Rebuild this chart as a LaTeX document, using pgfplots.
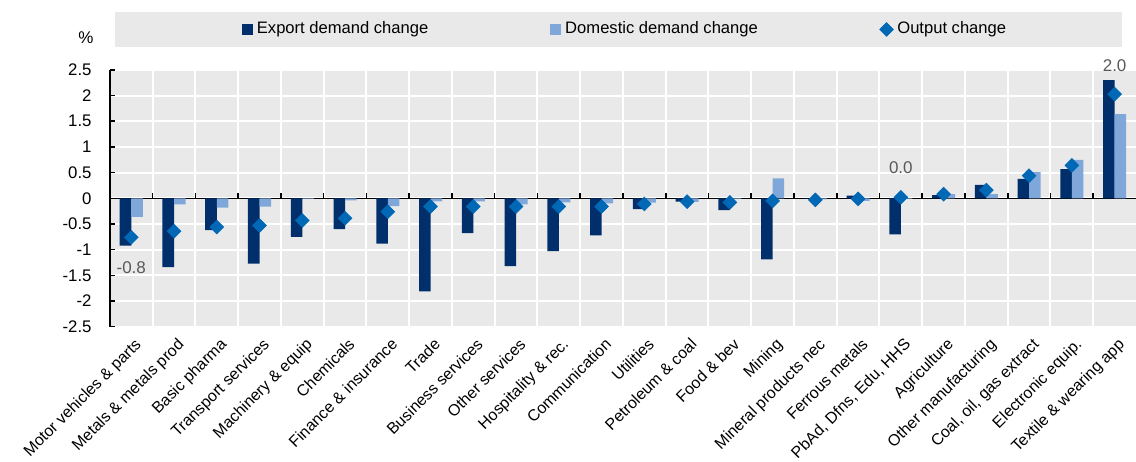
\documentclass[border=0pt]{standalone}
\usepackage{pgfplots}
\pgfplotsset{compat=1.18}
\usepackage{fontspec}
\setmainfont{Liberation Sans}

\definecolor{exportc}{HTML}{002F6C}
\definecolor{domc}{HTML}{7FA7DA}
\definecolor{outc}{HTML}{0068B5}
\definecolor{bgc}{HTML}{E9E9E9}
\definecolor{lblc}{HTML}{595959}

\begin{document}
\begin{tikzpicture}
\begin{axis}[
    name=ax,
    scale only axis,
    width=513.5bp, height=128.5bp,
    clip=false,
    xmin=-0.5, xmax=23.5,
    ymin=-2.5, ymax=2.5,
    ytick={-2.5,-2,...,2.5},
    xtick={0,...,23},
    xticklabels={Motor vehicles \& parts, Metals \& metals prod, Basic pharma,
        Transport services, Machinery \& equip, Chemicals, Finance \& insurance,
        Trade, Business services, Other services, Hospitality \& rec.,
        Communication, Utilities, Petroleum \& coal, Food \& bev, Mining,
        Mineral products nec, Ferrous metals, {PbAd, Dfns, Edu, HHS},
        Agriculture, Other manufacturing, {Coal, oil, gas extract},
        Electronic equip., Textile \& wearing app},
    minor xtick={0.5,1.5,...,22.5},
    xmajorgrids=false, xminorgrids=true, ymajorgrids=true,
    major grid style={white, line width=1bp},
    minor grid style={white, line width=1bp},
    axis background/.style={fill=bgc},
    axis x line*=bottom, x axis line style={draw=none},
    axis y line*=left, y axis line style={black, line width=0.8bp, -},
    tick align=inside,
    major tick length=2.5bp, minor tick length=0pt,
    xtick style={draw=none},
    ytick style={black, line width=0.8bp},
    extra y ticks={0}, extra y tick labels={},
    extra y tick style={ymajorgrids=true, major grid style={black, line width=0.8bp}},
    /pgf/number format/assume math mode=true,
    yticklabel style={font=\fontsize{8.4bp}{10bp}\selectfont, anchor=east, inner sep=0pt, xshift=-9bp},
    xticklabel style={font=\fontsize{8bp}{10bp}\selectfont, xshift=1.2bp, yshift=-5bp,
        rotate=45, anchor=north east, inner sep=0pt},
    ylabel={\%},
    ylabel style={rotate=-90, at={(rel axis cs:0,1)}, anchor=center,
        xshift=-12bp, yshift=16.2bp, font=\fontsize{8.5bp}{10bp}\selectfont},
    legend columns=3,
    legend style={at={(rel axis cs:0.503,1.1576)}, anchor=center, draw=none, fill=none,
        font=\fontsize{8.3bp}{10bp}\selectfont, inner sep=0pt,
        /tikz/every even column/.append style={column sep=59bp}},
]
% legend background strip
\fill[bgc] (rel axis cs:0.0049,1.0895) rectangle (rel axis cs:0.9864,1.2257);

% export demand change
\addplot[ybar, bar width=0.27, bar shift=-0.135, fill=exportc, draw=none,
    legend image code/.code={\fill[exportc] (0bp,-2.75bp) rectangle (5.5bp,2.75bp);}]
coordinates {
(0,-0.92) (1,-1.34) (2,-0.62) (3,-1.27) (4,-0.75) (5,-0.60) (6,-0.88) (7,-1.81)
(8,-0.68) (9,-1.32) (10,-1.03) (11,-0.72) (12,-0.21) (13,-0.065) (14,-0.23) (15,-1.19)
(16,-0.005) (17,0.05) (18,-0.70) (19,0.06) (20,0.26) (21,0.38) (22,0.57) (23,2.30)
};
\addlegendentry{Export demand change}

% domestic demand change
\addplot[ybar, bar width=0.27, bar shift=0.135, fill=domc, draw=none,
    legend image code/.code={\fill[domc] (0bp,-2.75bp) rectangle (5.5bp,2.75bp);}]
coordinates {
(0,-0.36) (1,-0.12) (2,-0.18) (3,-0.16) (4,-0.01) (5,-0.04) (6,-0.15) (7,-0.06)
(8,-0.06) (9,-0.12) (10,-0.08) (11,-0.10) (12,-0.085) (13,-0.07) (14,-0.01) (15,0.39)
(16,-0.02) (17,-0.05) (18,-0.01) (19,0.08) (20,0.08) (21,0.51) (22,0.75) (23,1.64)
};
\addlegendentry{Domestic demand change}

% output change
\addplot[only marks, mark=square*, mark size=2.4bp,
    mark options={rotate=45, fill=outc, draw=outc},
    legend image code/.code={\draw[mark=square*, mark size=2.4bp,
        mark options={rotate=45, fill=outc, draw=outc}] plot coordinates {(2.75bp,0bp)};}]
coordinates {
(0,-0.76) (1,-0.64) (2,-0.56) (3,-0.53) (4,-0.43) (5,-0.39) (6,-0.26) (7,-0.16)
(8,-0.16) (9,-0.16) (10,-0.16) (11,-0.16) (12,-0.11) (13,-0.065) (14,-0.08) (15,-0.05)
(16,-0.03) (17,-0.01) (18,0.02) (19,0.08) (20,0.16) (21,0.44) (22,0.64) (23,2.03)
};
\addlegendentry{Output change}

% small ticks on the zero line
\pgfplotsinvokeforeach{0,...,22}{\draw[black, line width=0.8bp] (axis cs:#1.5,0) -- ([yshift=2.8bp]axis cs:#1.5,0);}

% value labels
\node[text=lblc, font=\fontsize{8.5bp}{10bp}\selectfont] at (axis cs:0,-1.36) {-0.8};
\node[text=lblc, font=\fontsize{8.5bp}{10bp}\selectfont] at (axis cs:18,0.59) {0.0};
\node[text=lblc, font=\fontsize{8.5bp}{10bp}\selectfont] at (axis cs:23,2.58) {2.0};
\end{axis}
\pgfresetboundingbox
\path[use as bounding box] ([xshift=-55bp,yshift=-67.5bp]ax.south west) rectangle ([yshift=35bp]ax.north east);
\end{tikzpicture}
\end{document}
